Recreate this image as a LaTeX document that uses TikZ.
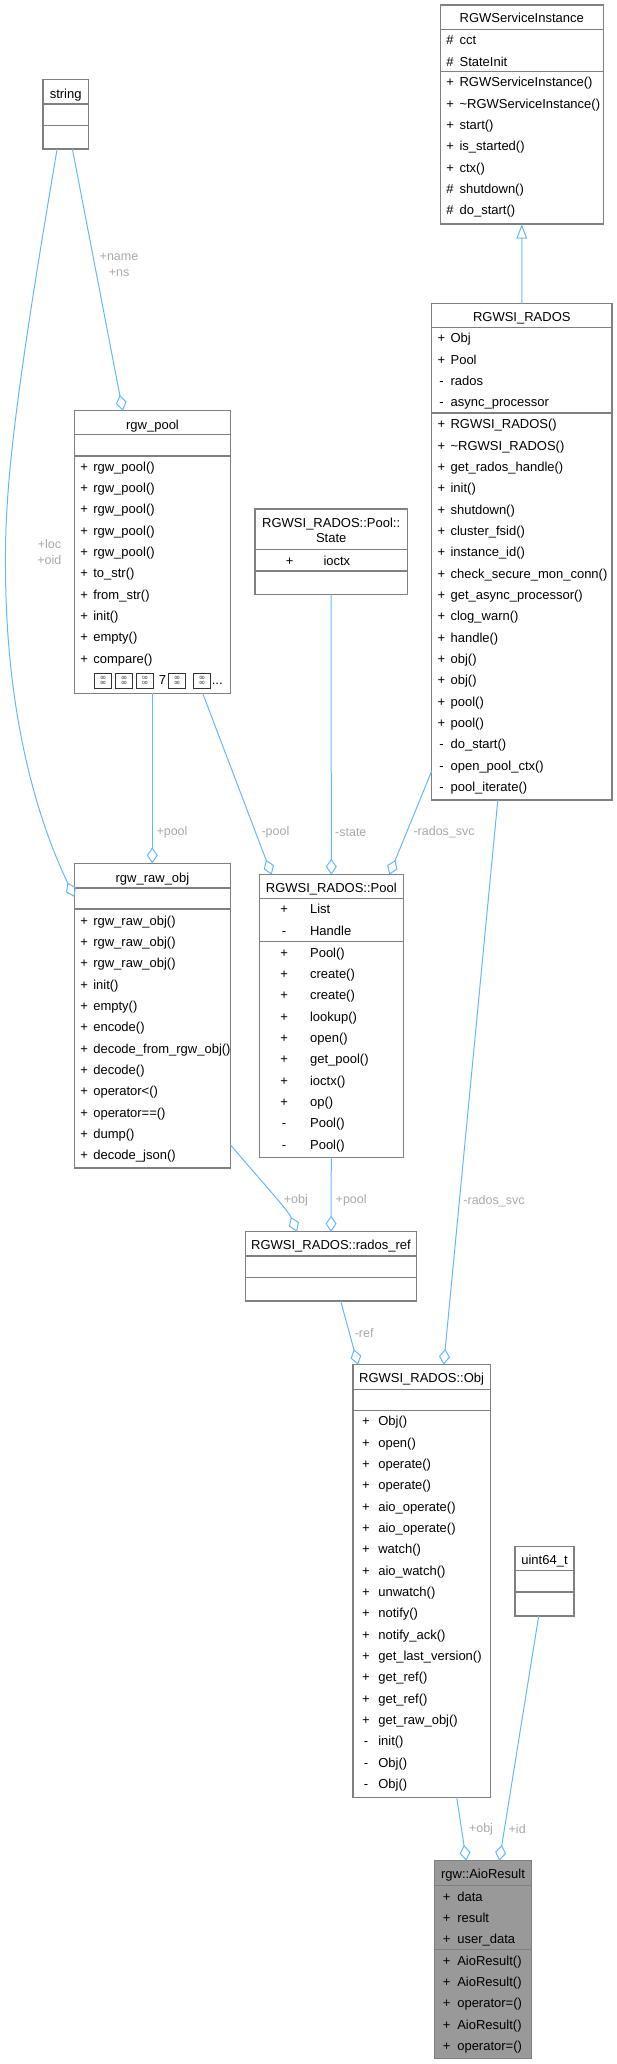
\documentclass[tikz,border=0pt]{standalone}
\usepackage{fontspec}
\setmainfont{Liberation Sans}
\usetikzlibrary{arrows.meta}
\definecolor{edgeblue}{HTML}{63B8FF}
\definecolor{boxgray}{HTML}{808080}
\definecolor{lblgray}{HTML}{A8A8A8}
\definecolor{aiofill}{HTML}{999999}
\tikzset{
  cls/.style={draw=boxgray, line width=1.3pt, fill=white, inner sep=0pt, outer sep=0pt, anchor=north west, rectangle},
  sepline/.style={draw=boxgray, line width=1.3pt},
  txt/.style={font=\fontsize{13}{15.6}\selectfont, inner sep=0pt, outer sep=0pt},
  ttl/.style={txt, anchor=base},
  vis/.style={txt, anchor=base},
  mem/.style={txt, anchor=base west},
  agg/.style={draw=edgeblue, line width=1pt, -{Diamond[open, length=16pt, width=11pt]}},
  inh/.style={draw=edgeblue, line width=1pt, -{Triangle[open, length=14.5pt, width=10.5pt]}},
  lbl/.style={font=\fontsize{12.5}{16}\selectfont, text=lblgray, inner sep=0pt, align=center},
  tofu/.style={draw=black!80, line width=0.6pt, minimum width=17pt, minimum height=14.5pt, inner sep=0pt, anchor=north west, font=\fontsize{4.5}{5}\selectfont, align=center}
}
\newcommand\classrows[5]{%
  \foreach \vv/\mm [count=\i from 0] in {#5} {
    \pgfmathsetmacro\yy{#4+\i*21.33+4.6}
    \node[vis] (#1v\i) at (#2,\yy) {\vv};
    \node[mem] (#1m\i) at (#3,\yy) {\mm};
  }}
\begin{document}
\begin{tikzpicture}[x=1pt,y=-1pt]
\useasboundingbox (0,0) rectangle (617,2064);

% ---------- string
\node[cls, minimum width=45.6pt, minimum height=69.3pt] (string) at (42.9,79.7) {};
\draw[sepline] (string.west |- 0,104) -- (string.east |- 0,104);
\draw[sepline] (string.west |- 0,125.3) -- (string.east |- 0,125.3);
\node[ttl] (stringT) at (65.7,98.6) {string};

% ---------- RGWServiceInstance
\node[cls, minimum width=162.9pt, minimum height=219pt] (rsi) at (440.3,5) {};
\draw[sepline] (rsi.west |- 0,29.3) -- (rsi.east |- 0,29.3);
\draw[sepline] (rsi.west |- 0,71.7) -- (rsi.east |- 0,71.7);
\node[ttl] (rsiT) at (521.75,22.9) {RGWServiceInstance};
\classrows{rsiA}{450.1}{459.6}{40.3}{\#/cct, \#/StateInit}
\classrows{rsiM}{450.1}{459.6}{82.3}{+/RGWServiceInstance(), +/\textasciitilde RGWServiceInstance(), +/start(), +/is\_started(), +/ctx(), \#/shutdown(), \#/do\_start()}

% ---------- RGWSI_RADOS
\node[cls, minimum width=180.2pt, minimum height=496.3pt] (rados) at (431.7,303.7) {};
\draw[sepline] (rados.west |- 0,327.7) -- (rados.east |- 0,327.7);
\draw[sepline] (rados.west |- 0,413) -- (rados.east |- 0,413);
\node[ttl] (radosT) at (521.8,321.6) {RGWSI\_RADOS};
\classrows{radosA}{441.5}{450.6}{338.3}{+/Obj, +/Pool, -/rados, -/async\_processor}
\classrows{radosM}{441.5}{450.6}{424.3}{+/RGWSI\_RADOS(), +/\textasciitilde RGWSI\_RADOS(), +/get\_rados\_handle(), +/init(), +/shutdown(), +/cluster\_fsid(), +/instance\_id(), +/check\_secure\_mon\_conn(), +/get\_async\_processor(), +/clog\_warn(), +/handle(), +/obj(), +/obj(), +/pool(), +/pool(), -/do\_start(), -/open\_pool\_ctx(), -/pool\_iterate()}

% ---------- rgw_pool
\node[cls, minimum width=156.2pt, minimum height=282.6pt] (pool) at (74.4,410.7) {};
\draw[sepline] (pool.west |- 0,434.3) -- (pool.east |- 0,434.3);
\draw[sepline] (pool.west |- 0,456) -- (pool.east |- 0,456);
\node[ttl] (poolT) at (152.5,429.3) {rgw\_pool};
\classrows{poolM}{84.2}{93.3}{466.7}{+/rgw\_pool(), +/rgw\_pool(), +/rgw\_pool(), +/rgw\_pool(), +/rgw\_pool(), +/to\_str(), +/from\_str(), +/init(), +/empty(), +/compare()}
\node[tofu] (tofuA) at (94.4,673) {00\\00};
\node[tofu] (tofuB) at (115.3,673) {00\\00};
\node[tofu] (tofuC) at (136.2,673) {00\\00};
\node[mem] (tofuSeven) at (158.8,684.6) {7};
\node[tofu] (tofuD) at (168.4,673) {00\\00};
\node[tofu] (tofuE) at (193.2,673) {00\\00};
\node[mem] (tofuDots) at (211.8,684.6) {...};

% ---------- rgw_raw_obj
\node[cls, minimum width=156.2pt, minimum height=304.7pt] (rawobj) at (74.4,863.3) {};
\draw[sepline] (rawobj.west |- 0,888) -- (rawobj.east |- 0,888);
\draw[sepline] (rawobj.west |- 0,909) -- (rawobj.east |- 0,909);
\node[ttl] (rawobjT) at (152.5,882.3) {rgw\_raw\_obj};
\classrows{rawobjM}{84.2}{93.3}{920.7}{+/rgw\_raw\_obj(), +/rgw\_raw\_obj(), +/rgw\_raw\_obj(), +/init(), +/empty(), +/encode(), +/decode\_from\_rgw\_obj(), +/decode(), +/operator<(), +/operator==(), +/dump(), +/decode\_json()}

% ---------- RGWSI_RADOS::Pool::State
\node[cls, minimum width=152.3pt, minimum height=85.7pt] (state) at (255,509) {};
\draw[sepline] (state.west |- 0,549.3) -- (state.east |- 0,549.3);
\draw[sepline] (state.west |- 0,571) -- (state.east |- 0,571);
\node[ttl] (stateT1) at (331.2,527.3) {RGWSI\_RADOS::Pool::};
\node[ttl] (stateT2) at (331.2,542.9) {State};
\classrows{stateA}{289.6}{323.5}{560.7}{+/ioctx}

% ---------- RGWSI_RADOS::Pool
\node[cls, minimum width=144pt, minimum height=282.6pt] (rpool) at (259.3,874.7) {};
\draw[sepline] (rpool.west |- 0,898.7) -- (rpool.east |- 0,898.7);
\draw[sepline] (rpool.west |- 0,941.3) -- (rpool.east |- 0,941.3);
\node[ttl] (rpoolT) at (331.3,892.9) {RGWSI\_RADOS::Pool};
\classrows{rpoolA}{284.1}{310.1}{909.3}{+/List, -/Handle}
\classrows{rpoolM}{284.1}{310.1}{952.7}{+/Pool(), +/create(), +/create(), +/lookup(), +/open(), +/get\_pool(), +/ioctx(), +/op(), -/Pool(), -/Pool()}

% ---------- RGWSI_RADOS::rados_ref
\node[cls, minimum width=171.4pt, minimum height=69.3pt] (ref) at (245.3,1231.7) {};
\draw[sepline] (ref.west |- 0,1256) -- (ref.east |- 0,1256);
\draw[sepline] (ref.west |- 0,1277.3) -- (ref.east |- 0,1277.3);
\node[ttl] (refT) at (331,1249.6) {RGWSI\_RADOS::rados\_ref};

% ---------- RGWSI_RADOS::Obj
\node[cls, minimum width=137.3pt, minimum height=432.6pt] (obj) at (353,1364.7) {};
\draw[sepline] (obj.west |- 0,1389.3) -- (obj.east |- 0,1389.3);
\draw[sepline] (obj.west |- 0,1410.7) -- (obj.east |- 0,1410.7);
\node[ttl] (objT) at (421.6,1382.9) {RGWSI\_RADOS::Obj};
\classrows{objM}{366}{378.3}{1421.3}{+/Obj(), +/open(), +/operate(), +/operate(), +/aio\_operate(), +/aio\_operate(), +/watch(), +/aio\_watch(), +/unwatch(), +/notify(), +/notify\_ack(), +/get\_last\_version(), +/get\_ref(), +/get\_ref(), +/get\_raw\_obj(), -/init(), -/Obj(), -/Obj()}

% ---------- uint64_t
\node[cls, minimum width=59pt, minimum height=69.3pt] (u64) at (515,1546.7) {};
\draw[sepline] (u64.west |- 0,1570.3) -- (u64.east |- 0,1570.3);
\draw[sepline] (u64.west |- 0,1592) -- (u64.east |- 0,1592);
\node[ttl] (u64T) at (544.5,1564.6) {uint64\_t};

% ---------- rgw::AioResult
\node[cls, fill=aiofill, minimum width=97.4pt, minimum height=197.6pt] (aio) at (434.3,1860.7) {};
\draw[sepline] (aio.west |- 0,1885.7) -- (aio.east |- 0,1885.7);
\draw[sepline] (aio.west |- 0,1949.3) -- (aio.east |- 0,1949.3);
\node[ttl] (aioT) at (483,1878.9) {rgw::AioResult};
\classrows{aioA}{446.7}{457.3}{1896.7}{+/data, +/result, +/user\_data}
\classrows{aioM}{446.7}{457.3}{1960.7}{+/AioResult(), +/AioResult(), +/operator=(), +/AioResult(), +/operator=()}

% ---------- connectors
\draw[inh] ([xshift=90.1pt]rados.north west) -- (rsi.south);
\draw[agg] ([xshift=29.5pt]string.south west) -- ([xshift=48.4pt]pool.north west);
\draw[agg] ([xshift=14.2pt]string.south west) .. controls (18,380) and (5,480) .. (5.5,561)
  .. controls (5,720) and (40,825) .. ([yshift=-33.7pt]rawobj.north west);
\draw[agg] ([xshift=77.9pt]pool.south west) -- ([xshift=77.9pt]rawobj.north west);
\draw[agg] ([xshift=128.3pt]pool.south west) -- ([xshift=12.4pt]rpool.north west);
\draw[agg] (state.south) -- (rpool.north);
\draw[agg] ([yshift=-467.3pt]rados.north west) -- ([xshift=130pt]rpool.north west);
\draw[agg] ([yshift=-281.7pt]rawobj.north east) .. controls (262,1182) and (288,1210) .. ([xshift=51.7pt]ref.north west);
\draw[agg] (rpool.south) -- (ref.north);
\draw[agg] ([xshift=66.1pt]rados.south west) -- ([xshift=90.7pt]obj.north west);
\draw[agg] ([xshift=95.4pt]ref.south west) -- ([xshift=5pt]obj.north west);
\draw[agg] ([xshift=103.7pt]obj.south west) -- ([xshift=32pt]aio.north west);
\draw[agg] ([xshift=23.7pt]u64.south west) -- ([xshift=65pt]aio.north west);

% ---------- connector labels
\node[lbl] (lNameNs) at (119,265) {+name\\+ns};
\node[lbl] (lLocOid) at (49.4,552.3) {+loc\\+oid};
\node[lbl] (lPoolA) at (172,832.5) {+pool};
\node[lbl] (lPoolB) at (275.4,832.5) {-pool};
\node[lbl] (lState) at (350.8,832.5) {-state};
\node[lbl] (lSvcA) at (444.1,832.5) {-rados\_svc};
\node[lbl] (lObjA) at (295.9,1200) {+obj};
\node[lbl] (lPoolC) at (351.2,1200) {+pool};
\node[lbl] (lSvcB) at (494,1200.7) {-rados\_svc};
\node[lbl] (lRef) at (364.2,1333.3) {-ref};
\node[lbl] (lObjB) at (481,1829.3) {+obj};
\node[lbl] (lId) at (517.2,1829.3) {+id};
\end{tikzpicture}
\end{document}
